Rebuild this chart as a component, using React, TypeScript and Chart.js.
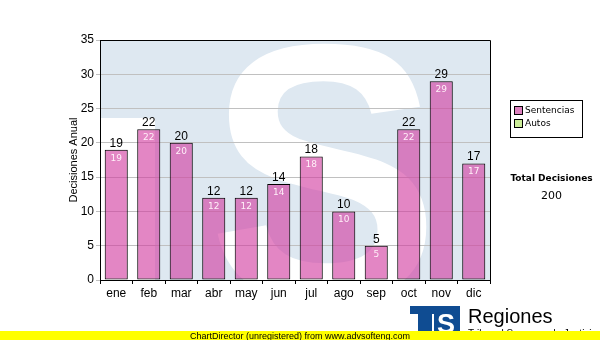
import { useEffect, useRef } from "react";
import { Chart, registerables } from "chart.js";

Chart.register(...registerables);

const months = ["ene", "feb", "mar", "abr", "may", "jun", "jul", "ago", "sep", "oct", "nov", "dic"];
const sentencias = [19, 22, 20, 12, 12, 14, 18, 10, 5, 22, 29, 17];
const autos = [0, 0, 0, 0, 0, 0, 0, 0, 0, 0, 0, 0];
const seriesNames = ["Sentencias", "Autos"];
const yAxisTitle = "Decisiones Anual";
const yMin = 0;
const yMax = 35;
const yStep = 5;
const totalTitle = "Total Decisiones";
const brandName = "Regiones";
const brandSub = "Tribunal Supremo de Justicia";
const footerText = "ChartDirector (unregistered) from www.advsofteng.com";

const SANS = '"Liberation Sans", Arial, sans-serif';
const VERD = '"DejaVu Sans", Verdana, sans-serif';
const PINK = "rgba(210, 60, 160, 0.62)";
const PINK_SOLID = "#dd80bf";
const GREEN = "#ccee99";
const BG_BLUE = "#dee8f1";

const backgroundPlugin = {
  id: "bgWatermark",
  beforeDraw(chart: any) {
    const { ctx, chartArea: ca } = chart;
    const w = ca.right - ca.left;
    const h = ca.bottom - ca.top;
    ctx.save();
    ctx.beginPath();
    ctx.rect(ca.left, ca.top, w, h);
    ctx.clip();
    ctx.fillStyle = BG_BLUE;
    ctx.fillRect(ca.left, ca.top, w, h);
    ctx.fillStyle = "#ffffff";
    ctx.fillRect(ca.left, ca.top + 0.325 * h, 0.141 * w, h);
    ctx.font = `bold 300px ${SANS}`;
    const m = ctx.measureText("S");
    const gw = m.actualBoundingBoxLeft + m.actualBoundingBoxRight;
    const gh = m.actualBoundingBoxAscent + m.actualBoundingBoxDescent;
    const tx0 = ca.left + 0.29 * w;
    const tx1 = ca.left + 0.848 * w;
    const ty0 = ca.top + 2;
    const ty1 = ca.bottom + 25;
    ctx.translate(tx0, ty0);
    ctx.scale((tx1 - tx0) / gw, (ty1 - ty0) / gh);
    ctx.textAlign = "left";
    ctx.textBaseline = "alphabetic";
    ctx.fillText("S", m.actualBoundingBoxLeft, m.actualBoundingBoxAscent);
    ctx.restore();
  },
};

const labelsPlugin = {
  id: "valueLabels",
  afterDatasetsDraw(chart: any) {
    const { ctx, chartArea: ca } = chart;
    const meta = chart.getDatasetMeta(0);
    const data = chart.data.datasets[0].data;
    ctx.save();
    meta.data.forEach((bar: any, i: number) => {
      const v = String(data[i]);
      ctx.textAlign = "center";
      ctx.fillStyle = "#000";
      ctx.font = `12px ${SANS}`;
      ctx.textBaseline = "bottom";
      ctx.fillText(v, bar.x, bar.y - 0.5);
      ctx.fillStyle = "#fff0f8";
      ctx.font = `9px ${VERD}`;
      ctx.textBaseline = "top";
      ctx.fillText(v, bar.x, bar.y + 4);
    });
    // top and right frame
    ctx.strokeStyle = "#000";
    ctx.lineWidth = 1;
    ctx.beginPath();
    ctx.moveTo(Math.round(ca.left) + 0.5, Math.round(ca.top) + 0.5);
    ctx.lineTo(Math.round(ca.right) + 0.5, Math.round(ca.top) + 0.5);
    ctx.lineTo(Math.round(ca.right) + 0.5, Math.round(ca.bottom) + 0.5);
    ctx.stroke();
    ctx.restore();
  },
};

const extrasPlugin = {
  id: "extras",
  afterDraw(chart: any) {
    const { ctx, chartArea: ca } = chart;
    const W = chart.width;
    const H = chart.height;
    ctx.save();
    // legend box
    const lx = ca.right + 20;
    const ly = ca.top + 60;
    ctx.strokeStyle = "#000";
    ctx.lineWidth = 1;
    ctx.strokeRect(lx + 0.5, ly + 0.5, 72, 37);
    const colors = [PINK_SOLID, GREEN];
    ctx.font = `9px ${VERD}`;
    ctx.textAlign = "left";
    ctx.textBaseline = "middle";
    chart.data.datasets.forEach((ds: any, i: number) => {
      const y = ly + 11 + i * 13;
      ctx.fillStyle = colors[i];
      ctx.fillRect(lx + 4.5, y - 4.5, 8, 8);
      ctx.strokeRect(lx + 4.5, y - 4.5, 8, 8);
      ctx.fillStyle = "#000";
      ctx.fillText(ds.label, lx + 15, y);
    });
    // total
    const total = sentencias.reduce((a, b) => a + b, 0) + autos.reduce((a, b) => a + b, 0);
    ctx.textAlign = "center";
    ctx.font = `bold 9px ${VERD}`;
    ctx.fillText(totalTitle, lx + 41.5, ca.top + 138.5);
    ctx.font = `11px ${VERD}`;
    ctx.fillText(String(total), lx + 41.5, ca.top + 156);
    // logo
    ctx.fillStyle = "#0f4c92";
    ctx.fillRect(410, 306, 50, 26);
    ctx.fillStyle = "#fff";
    ctx.fillRect(410, 314, 8, 18);
    ctx.fillRect(432, 314, 2, 18);
    ctx.font = `bold 27px ${SANS}`;
    ctx.textAlign = "center";
    ctx.textBaseline = "alphabetic";
    ctx.fillText("S", 446, 333);
    ctx.fillStyle = "#000";
    ctx.textAlign = "left";
    ctx.font = `20px ${SANS}`;
    ctx.fillText(brandName, 468, 323);
    ctx.font = `10px ${SANS}`;
    ctx.fillText(brandSub, 468, 337);
    // footer
    ctx.fillStyle = "#ffff00";
    ctx.fillRect(0, 331, W, H - 331);
    ctx.fillStyle = "#000";
    ctx.font = `9px ${SANS}`;
    ctx.textBaseline = "alphabetic";
    ctx.fillText(footerText, 190, 338.5);
    ctx.restore();
  },
};

export default function App() {
  const ref = useRef<HTMLCanvasElement | null>(null);
  useEffect(() => {
    document.body.style.margin = "0";
    const canvas = ref.current;
    if (!canvas) return;
    const chart = new Chart(canvas, {
      type: "bar",
      data: {
        labels: months,
        datasets: [
          {
            label: seriesNames[0],
            data: sentencias,
            backgroundColor: PINK,
            borderColor: "#000",
            borderWidth: 1,
            borderSkipped: false,
            barPercentage: 0.71,
            categoryPercentage: 1,
          },
          {
            label: seriesNames[1],
            data: autos,
            backgroundColor: GREEN,
            borderWidth: 0,
            barPercentage: 0.71,
            categoryPercentage: 1,
          },
        ],
      },
      options: {
        responsive: false,
        animation: false,
        devicePixelRatio: 1,
        layout: { padding: { left: 60, top: 40, right: 110, bottom: 30 } },
        plugins: { legend: { display: false }, tooltip: { enabled: false }, title: { display: false } },
        scales: {
          x: {
            stacked: true,
            grid: { drawOnChartArea: false, drawTicks: true, tickLength: 4, color: "#000" },
            border: { color: "#000" },
            ticks: { font: { family: SANS, size: 12 }, color: "#000", padding: 2, maxRotation: 0 },
            afterFit: (s: any) => {
              s.height = 30;
            },
          },
          y: {
            stacked: true,
            min: yMin,
            max: yMax,
            ticks: { stepSize: yStep, font: { family: SANS, size: 12 }, color: "#000", padding: 2 },
            grid: { color: "#c0c0c0", tickLength: 4 },
            border: { color: "#000" },
            title: {
              display: true,
              text: yAxisTitle,
              font: { family: SANS, size: 11 },
              color: "#000",
              padding: { top: 7, bottom: 0 },
            },
            afterFit: (s: any) => {
              s.width = 40;
            },
          },
        },
      },
      plugins: [backgroundPlugin, labelsPlugin, extrasPlugin],
    });
    return () => chart.destroy();
  }, []);
  return <canvas ref={ref} width={600} height={340} style={{ display: "block" }} />;
}
